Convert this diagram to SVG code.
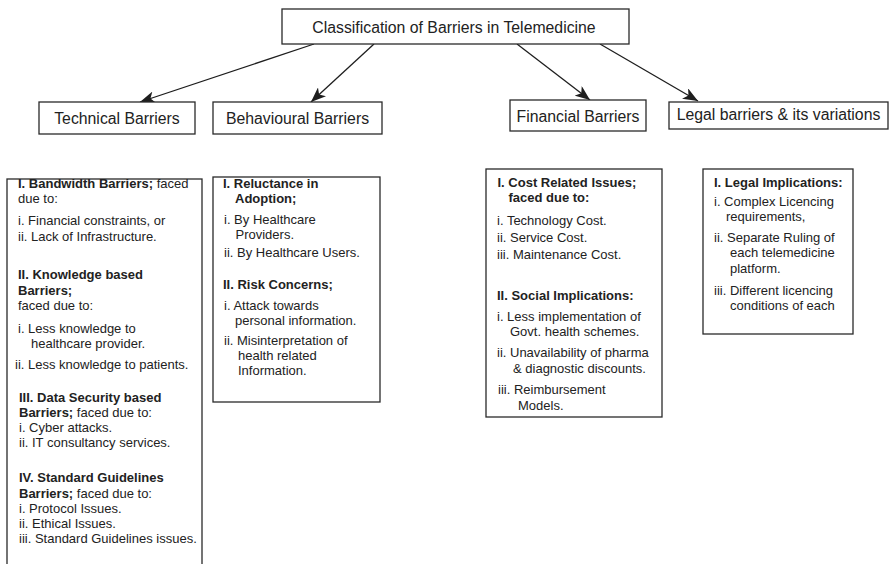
<svg xmlns="http://www.w3.org/2000/svg" width="889" height="564" viewBox="0 0 889 564">
  <style>
    .box { fill: #ffffff; stroke: #2a2a2a; stroke-width: 1.3; }
    .conn { fill: none; stroke: #1e1e1e; stroke-width: 1.3; }
    text { font-family: "Liberation Sans", Arial, sans-serif; fill: #222222; }
    .head { font-size: 15.8px; text-anchor: middle; }
    .t { font-size: 13px; }
    .b { font-weight: bold; }
  </style>
  <defs>
    <marker id="arrow" markerUnits="userSpaceOnUse" markerWidth="16" markerHeight="12" viewBox="0 0 16 12" refX="15" refY="6" orient="auto">
      <path d="M0,0 L15,6 L0,12 L4,6 Z" fill="#1e1e1e"/>
    </marker>
  </defs>

  <rect width="889" height="564" fill="#ffffff"/>

  <!-- connectors from the root to each category -->
  <g id="connectors">
    <line class="conn" x1="314" y1="44" x2="140" y2="102" marker-end="url(#arrow)"/>
    <line class="conn" x1="374" y1="44" x2="311" y2="102" marker-end="url(#arrow)"/>
    <line class="conn" x1="517" y1="44" x2="590" y2="100" marker-end="url(#arrow)"/>
    <line class="conn" x1="600" y1="44" x2="698" y2="101" marker-end="url(#arrow)"/>
  </g>

  <!-- root -->
  <g id="root">
    <rect class="box" x="282" y="9" width="347" height="35"/>
    <text class="head" x="454" y="33">Classification of Barriers in Telemedicine</text>
  </g>

  <!-- categories -->
  <g id="cat-technical">
    <rect class="box" x="39" y="102" width="156" height="32"/>
    <text class="head" x="117" y="124">Technical Barriers</text>
  </g>
  <g id="cat-behavioural">
    <rect class="box" x="213" y="102" width="169" height="32"/>
    <text class="head" x="297.5" y="124">Behavioural Barriers</text>
  </g>
  <g id="cat-financial">
    <rect class="box" x="510" y="100" width="136" height="31"/>
    <text class="head" x="578" y="121.5">Financial Barriers</text>
  </g>
  <g id="cat-legal">
    <rect class="box" x="669" y="102" width="219" height="27"/>
    <text class="head" x="778.5" y="119.5">Legal barriers &amp; its variations</text>
  </g>

  <!-- technical details -->
  <g id="detail-technical">
    <rect class="box" x="7" y="179" width="195" height="395"/>
    <text class="t" x="18" y="188"><tspan class="b">I. Bandwidth Barriers;</tspan> faced</text>
    <text class="t" x="18" y="203">due to:</text>
    <text class="t" x="18" y="225">i. Financial constraints, or</text>
    <text class="t" x="18" y="241">ii. Lack of Infrastructure.</text>
    <text class="t b" x="18" y="279">II. Knowledge based</text>
    <text class="t b" x="18" y="295">Barriers;</text>
    <text class="t" x="18" y="310">faced due to:</text>
    <text class="t" x="18" y="333">i. Less knowledge to</text>
    <text class="t" x="31" y="348">healthcare provider.</text>
    <text class="t" x="15" y="369">ii. Less knowledge to patients.</text>
    <text class="t b" x="19" y="402">III. Data Security based</text>
    <text class="t" x="19" y="417"><tspan class="b">Barriers;</tspan> faced due to:</text>
    <text class="t" x="19" y="432">i. Cyber attacks.</text>
    <text class="t" x="19" y="447">ii. IT consultancy services.</text>
    <text class="t b" x="19" y="482">IV. Standard Guidelines</text>
    <text class="t" x="19" y="498"><tspan class="b">Barriers;</tspan> faced due to:</text>
    <text class="t" x="19" y="513">i. Protocol Issues.</text>
    <text class="t" x="19" y="528">ii. Ethical Issues.</text>
    <text class="t" x="19" y="543">iii. Standard Guidelines issues.</text>
  </g>

  <!-- behavioural details -->
  <g id="detail-behavioural">
    <rect class="box" x="213" y="177" width="167" height="225"/>
    <text class="t b" x="223" y="188">I. Reluctance in</text>
    <text class="t b" x="235" y="203">Adoption;</text>
    <text class="t" x="224" y="223.5">i. By Healthcare</text>
    <text class="t" x="235.5" y="238.5">Providers.</text>
    <text class="t" x="224" y="257">ii. By Healthcare Users.</text>
    <text class="t b" x="223" y="289">II. Risk Concerns;</text>
    <text class="t" x="224" y="310">i. Attack towards</text>
    <text class="t" x="235" y="325">personal information.</text>
    <text class="t" x="224" y="345">ii. Misinterpretation of</text>
    <text class="t" x="238" y="360">health related</text>
    <text class="t" x="238" y="375">Information.</text>
  </g>

  <!-- financial details -->
  <g id="detail-financial">
    <rect class="box" x="486" y="169" width="176" height="248"/>
    <text class="t b" x="497.5" y="186.5">I. Cost Related Issues;</text>
    <text class="t b" x="508.5" y="202">faced due to:</text>
    <text class="t" x="497" y="224.5">i. Technology Cost.</text>
    <text class="t" x="497" y="241.5">ii. Service Cost.</text>
    <text class="t" x="497" y="259">iii. Maintenance Cost.</text>
    <text class="t b" x="497" y="300">II. Social Implications:</text>
    <text class="t" x="497" y="320.5">i. Less implementation of</text>
    <text class="t" x="510" y="336">Govt. health schemes.</text>
    <text class="t" x="497" y="357">ii. Unavailability of pharma</text>
    <text class="t" x="513" y="372.5">&amp; diagnostic discounts.</text>
    <text class="t" x="498" y="394">iii. Reimbursement</text>
    <text class="t" x="518" y="409.5">Models.</text>
  </g>

  <!-- legal details -->
  <g id="detail-legal">
    <rect class="box" x="703" y="169" width="150" height="165"/>
    <text class="t b" x="714" y="186.5">I. Legal Implications:</text>
    <text class="t" x="714" y="205.5">i. Complex Licencing</text>
    <text class="t" x="726" y="221">requirements,</text>
    <text class="t" x="714" y="242">ii. Separate Ruling of</text>
    <text class="t" x="730" y="257">each telemedicine</text>
    <text class="t" x="730" y="272.5">platform.</text>
    <text class="t" x="714" y="294.5">iii. Different licencing</text>
    <text class="t" x="730" y="310">conditions of each</text>
  </g>
</svg>
